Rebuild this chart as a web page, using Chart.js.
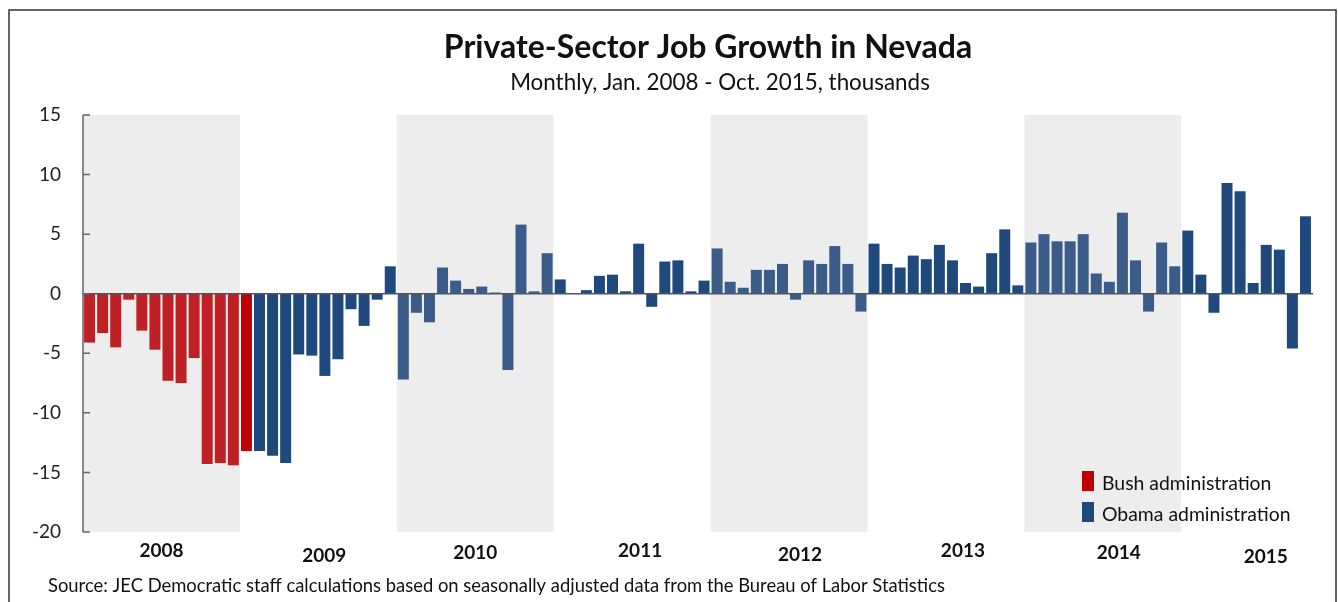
<!DOCTYPE html>
<html>
<head>
<meta charset="utf-8">
<script src="https://cdn.jsdelivr.net/npm/chart.js@4.4.1/dist/chart.umd.min.js"></script>
<style>
  body { margin: 0; background: #fff; }
  canvas { display: block; }
</style>
</head>
<body>
<canvas id="jobsChart" width="1338" height="602"></canvas>
<script>
// ===== DATA (thousands, monthly change) =====
const years = ["2008", "2009", "2010", "2011", "2012", "2013", "2014", "2015"];
const monthNames = ["Jan", "Feb", "Mar", "Apr", "May", "Jun", "Jul", "Aug", "Sep", "Oct", "Nov", "Dec"];

const g2008 = [-4.1, -3.3, -4.5, -0.5, -3.1, -4.7, -7.3, -7.5, -5.4, -14.3, -14.2, -14.4];
const g2009 = [-13.2, -13.2, -13.6, -14.2, -5.1, -5.2, -6.9, -5.5, -1.3, -2.7, -0.5, 2.3];
const g2010 = [-7.2, -1.6, -2.4, 2.2, 1.1, 0.4, 0.6, 0.1, -6.4, 5.8, 0.2, 3.4];
const g2011 = [1.2, 0, 0.3, 1.5, 1.6, 0.2, 4.2, -1.1, 2.7, 2.8, 0.2, 1.1];
const g2012 = [3.8, 1.0, 0.5, 2.0, 2.0, 2.5, -0.5, 2.8, 2.5, 4.0, 2.5, -1.5];
const g2013 = [4.2, 2.5, 2.2, 3.2, 2.9, 4.1, 2.8, 0.9, 0.6, 3.4, 5.4, 0.7];
const g2014 = [4.3, 5.0, 4.4, 4.4, 5.0, 1.7, 1.0, 6.8, 2.8, -1.5, 4.3, 2.3];
const g2015 = [5.3, 1.6, -1.6, 9.3, 8.6, 0.9, 4.1, 3.7, -4.6, 6.5];

const yTicks = [15, 10, 5, 0, -5, -10, -15, -20];
const bushMonths = 13; // Jan 2008 - Jan 2009
const seriesNames = ["Bush administration", "Obama administration"];

// ===== BUILD =====
const byYear = [g2008, g2009, g2010, g2011, g2012, g2013, g2014, g2015];
const labels = [];
const values = [];
byYear.forEach((arr, yi) => {
  arr.forEach((v, m) => {
    labels.push(monthNames[m] + " " + years[yi]);
    values.push(v);
  });
});
const bushData = values.map((v, i) => (i < bushMonths ? v : null));
const obamaData = values.map((v, i) => (i >= bushMonths ? v : null));

const FONT = "Lato, 'Open Sans', sans-serif";
const shaded = i => Math.floor(i / 12) % 2 === 0;

// ===== PLUGIN: bands, axes, texts, legend =====
const decor = {
  id: "decor",
  beforeDatasetsDraw(chart) {
    const { ctx, chartArea: a, scales: { x } } = chart;
    const slot = x.getPixelForValue(1) - x.getPixelForValue(0);
    ctx.save();
    ctx.fillStyle = "#ededed";
    for (let yi = 0; yi < years.length; yi += 2) {
      const left = x.getPixelForValue(yi * 12) - slot / 2;
      ctx.fillRect(left, a.top, slot * 12, a.bottom - a.top);
    }
    ctx.restore();
  },
  afterDatasetsDraw(chart) {
    const { ctx, chartArea: a, scales: { x, y } } = chart;
    const slot = x.getPixelForValue(1) - x.getPixelForValue(0);
    ctx.save();

    // zero line
    const y0 = y.getPixelForValue(0);
    ctx.strokeStyle = "#555";
    ctx.lineWidth = 1.5;
    ctx.beginPath();
    ctx.moveTo(a.left, y0);
    ctx.lineTo(a.right + 1, y0);
    ctx.stroke();

    // y axis + ticks
    ctx.strokeStyle = "#666";
    ctx.lineWidth = 1.5;
    ctx.beginPath();
    ctx.moveTo(a.left, y.getPixelForValue(15));
    ctx.lineTo(a.left, y.getPixelForValue(-20));
    yTicks.forEach(t => {
      const py = y.getPixelForValue(t);
      ctx.moveTo(a.left, py);
      ctx.lineTo(a.left + 7, py);
    });
    ctx.stroke();

    ctx.fillStyle = "#222";
    ctx.font = "19px " + FONT;
    ctx.textAlign = "right";
    ctx.textBaseline = "middle";
    yTicks.forEach(t => ctx.fillText(String(t), 61, y.getPixelForValue(t)));

    // year labels
    const nudgeX = [0, 6, 0, 8, 11, 17, 16, 6];
    const posY = [551, 556, 553, 551, 555, 551, 553, 557];
    ctx.font = "bold 19px " + FONT;
    ctx.textAlign = "center";
    ctx.fillStyle = "#111";
    years.forEach((yr, yi) => {
      const cx = x.getPixelForValue(yi * 12) - slot / 2 + slot * 6 + nudgeX[yi];
      ctx.fillText(yr, cx, posY[yi]);
    });

    // title
    ctx.font = "bold 32px " + FONT;
    ctx.fillText("Private-Sector Job Growth in Nevada", 708, 48);
    ctx.font = "22.4px " + FONT;
    ctx.fillText("Monthly, Jan. 2008 - Oct. 2015, thousands", 720, 83);

    // source
    ctx.font = "18.4px " + FONT;
    ctx.textAlign = "left";
    ctx.fillText("Source: JEC Democratic staff calculations based on seasonally adjusted data from the Bureau of Labor Statistics", 48, 586);

    // legend
    const legendColors = ["#c00000", "#1f497d"];
    ctx.font = "19.4px " + FONT;
    seriesNames.forEach((name, i) => {
      const ty = 471 + i * 31;
      ctx.fillStyle = legendColors[i];
      ctx.fillRect(1082, ty, 12, 20);
      ctx.fillStyle = "#111";
      ctx.fillText(name, 1102, ty + 13);
    });

    // frame
    ctx.strokeStyle = "#333";
    ctx.lineWidth = 1.5;
    ctx.beginPath();
    ctx.moveTo(9, 610);
    ctx.lineTo(9, 10);
    ctx.lineTo(1336, 10);
    ctx.lineTo(1336, 610);
    ctx.stroke();

    ctx.restore();
  }
};

new Chart(document.getElementById("jobsChart"), {
  type: "bar",
  data: {
    labels: labels,
    datasets: [
      {
        label: seriesNames[0],
        data: bushData,
        backgroundColor: c => (shaded(c.dataIndex) ? "#be2026" : "#c00000")
      },
      {
        label: seriesNames[1],
        data: obamaData,
        backgroundColor: c => (shaded(c.dataIndex) ? "#3b5c88" : "#1f497d")
      }
    ]
  },
  options: {
    responsive: false,
    animation: false,
    layout: { padding: { left: 83, top: 115, right: 26, bottom: 70 } },
    datasets: { bar: { barPercentage: 0.84, categoryPercentage: 1 } },
    plugins: {
      legend: { display: false },
      title: { display: false },
      tooltip: { enabled: false }
    },
    scales: {
      x: { stacked: true, display: false },
      y: { stacked: true, display: false, min: -20, max: 15 }
    }
  },
  plugins: [decor]
});
</script>
</body>
</html>
